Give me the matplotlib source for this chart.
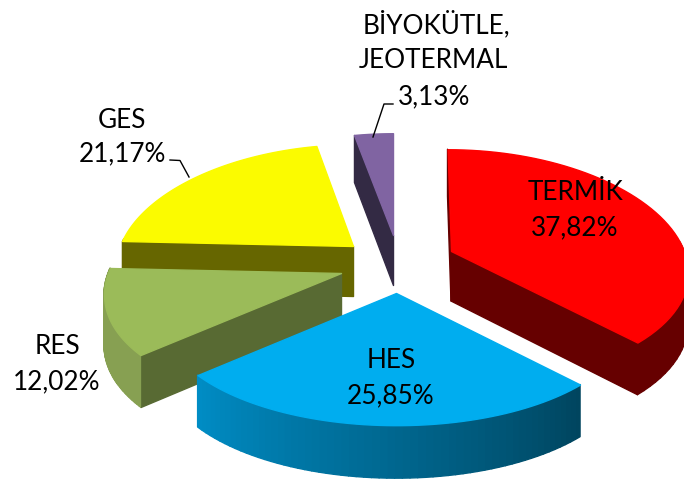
import numpy as np
import matplotlib
matplotlib.use("Agg")
import matplotlib.pyplot as plt
from matplotlib.collections import PolyCollection
from matplotlib.colors import to_rgb

# data, clockwise from 12 o'clock
labels = ["TERMİK", "HES", "RES", "GES", "BİYOKÜTLE,\nJEOTERMAL"]
values = [37.82, 25.85, 12.02, 21.17, 3.13]

# look of each slice
top_colors = ["#ff0000", "#00adef", "#9bbb59", "#fbfb00", "#8064a2"]
edge_colors = ["#660000", "#00455f", "#586a33", "#666600", "#332a44"]
arc_start = ["#660000", "#00455f", "#87a052", "#666600", "#332a44"]
arc_end = ["#660000", "#008cc4", "#87a052", "#666600", "#332a44"]
apex = [(451, 251), (396, 293), (341, 273), (353, 246), (393, 235)]
draw_order = [4, 3, 2, 0, 1]

RX, RY = 233, 115
KX, KY = 0.17, 0.13
LEAN = 0.06
MID_X = 393
DEPTH = 50

plt.rcParams["font.family"] = ["Lato", "DejaVu Sans"]
fig = plt.figure(figsize=(6.84, 4.79), dpi=100)
ax = fig.add_axes([0, 0, 1, 1])
ax.set_xlim(0, 684)
ax.set_ylim(479, 0)
ax.axis("off")


def project(center, theta):
    # tilted disc with a little perspective, front is bigger
    x = np.sin(theta)
    y = np.cos(theta)
    px = center[0] + RX * x / (1 + KX * y) - (center[0] - MID_X) * LEAN * y
    py = center[1] - RY * y / (1 + KY * y)
    return px, py


def lower(py, theta):
    return py + DEPTH * (1 - 0.06 * np.cos(theta))


def add_polys(polys, colors, z):
    if polys:
        ax.add_collection(PolyCollection(polys, facecolors=colors, edgecolors=colors,
                                         linewidths=1.0, zorder=z))


edges = np.cumsum([0] + values) / sum(values) * 2 * np.pi

for z, i in enumerate(draw_order):
    start, end = edges[i], edges[i + 1]
    c = apex[i]
    thetas = np.linspace(start, end, 60)
    px, py = project(c, thetas)
    qb = lower(py, thetas)

    # radial sides, only those turned to the viewer
    bottom = c[1] + DEPTH
    flats = []
    if np.sin(start) <= 1e-9:
        flats.append([c, (px[0], py[0]), (px[0], qb[0]), (c[0], bottom)])
    if np.sin(end) > 1e-9:
        flats.append([c, (px[-1], py[-1]), (px[-1], qb[-1]), (c[0], bottom)])
    add_polys(flats, [edge_colors[i]] * len(flats), z * 3)

    # outer curved side, colour runs along the arc, back part stays hidden
    c0, c1 = np.array(to_rgb(arc_start[i])), np.array(to_rgb(arc_end[i]))
    quads = []
    cols = []
    for k in range(len(thetas) - 1):
        if np.cos(thetas[k]) > 0.05 and np.cos(thetas[k + 1]) > 0.05:
            continue
        quads.append([(px[k], py[k]), (px[k + 1], py[k + 1]), (px[k + 1], qb[k + 1]), (px[k], qb[k])])
        cols.append(c0 + (c1 - c0) * k / (len(thetas) - 2))
    add_polys(quads, cols, z * 3 + 1)

    # top face
    top = [c] + list(zip(px, py))
    add_polys([top], [top_colors[i]], z * 3 + 2)


def pct(v):
    return f"{v:.2f}".replace(".", ",") + "%"


FS = 18.8
txt = dict(ha="center", va="center", fontsize=FS, color="black", zorder=50)
ax.text(575, 192, labels[0], **txt)
ax.text(575, 228, pct(values[0]), **txt)
ax.text(391, 361, labels[1], **txt)
ax.text(391, 396, pct(values[1]), **txt)
ax.text(57, 346, labels[2], **txt)
ax.text(57, 382, pct(values[2]), **txt)
ax.text(122, 120, labels[3], **txt)
ax.text(122, 154, pct(values[3]), **txt)
first, second = labels[4].split("\n")
ax.text(436, 24, first, **txt)
ax.text(433, 60, second, **txt)
ax.text(434, 97, pct(values[4]), **txt)

# leader lines
ax.plot([170, 180, 189], [160, 160.5, 177], color="black", lw=1, zorder=40)
ax.plot([393, 384, 373], [104, 104, 137], color="black", lw=1, zorder=40)

fig.savefig("out.png", dpi=100)
